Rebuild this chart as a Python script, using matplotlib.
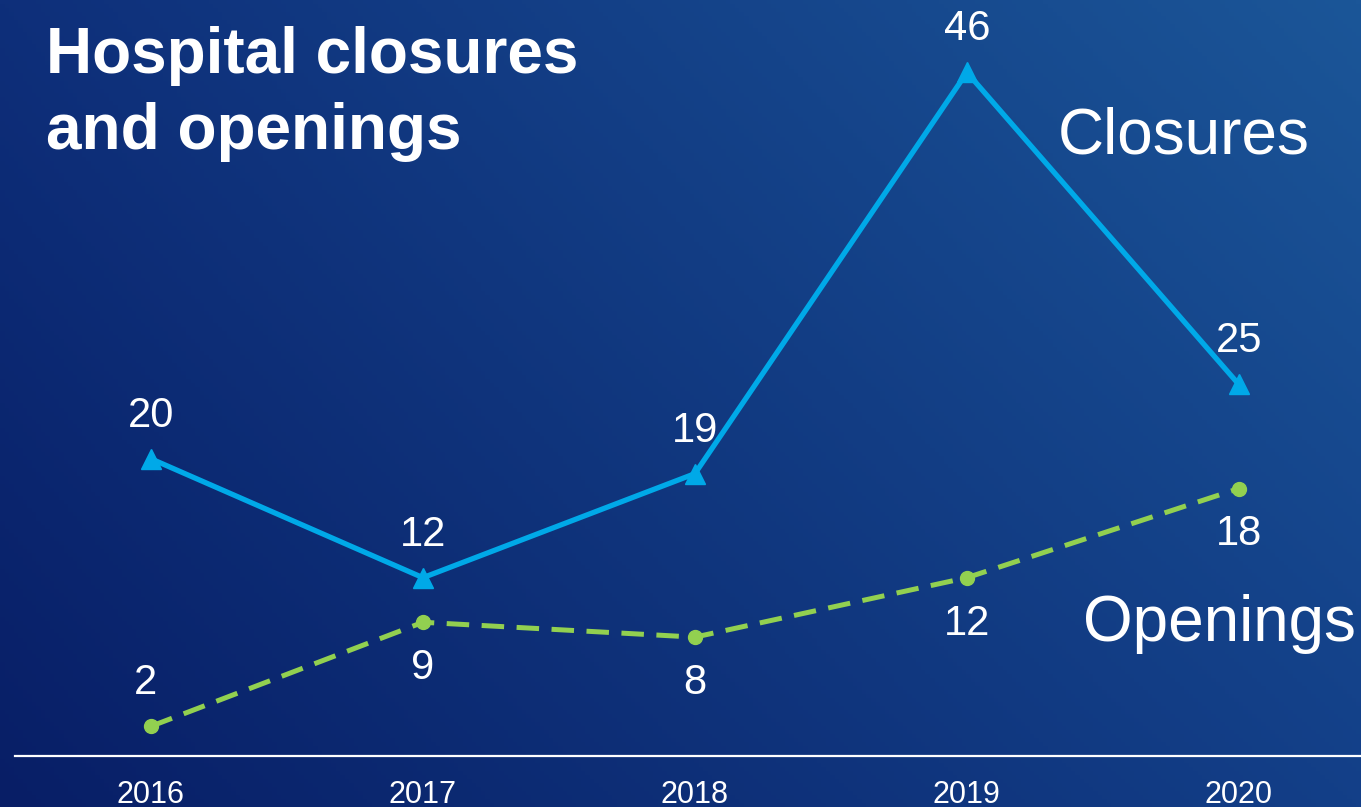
import numpy as np
import matplotlib.pyplot as plt
from matplotlib.colors import to_rgb

plt.rcParams['font.family'] = ['Liberation Sans', 'DejaVu Sans']

# datos
years = [2016, 2017, 2018, 2019, 2020]
closures = [20, 12, 19, 46, 25]
openings = [2, 9, 8, 12, 18]

azul = '#00A9E8'
verde = '#92D050'

fig = plt.figure(figsize=(13.61, 8.07), dpi=100)
ax = fig.add_axes([0, 0, 1, 1])
xmin, xmax = 2015.445, 2020.449
ymin, ymax = -3.43, 50.87
ax.set_xlim(xmin, xmax)
ax.set_ylim(ymin, ymax)

# fondo degradado (esquinas)
tl = np.array(to_rgb('#0E2F7A'))
tr = np.array(to_rgb('#1B5698'))
bl = np.array(to_rgb('#081E66'))
br = np.array(to_rgb('#133F88'))
u = np.linspace(0, 1, 300)[None, :, None]
v = np.linspace(0, 1, 200)[:, None, None]
img = (1 - v) * ((1 - u) * tl + u * tr) + v * ((1 - u) * bl + u * br)
ax.imshow(img, extent=[xmin, xmax, ymin, ymax], aspect='auto', zorder=0)

# linea base
ax.plot([2015.5, xmax], [0, 0], color='white', lw=1.6, zorder=1)

ax.plot(years, closures, color=azul, lw=3.8, marker='^', markersize=14, zorder=3)
ax.plot(years, openings, color=verde, lw=3.6, ls=(0, (4.5, 2.5)), marker='o', markersize=10, zorder=3)

for x, y in zip(years, closures):
    ax.annotate(str(y), (x, y), xytext=(0, 31), textcoords='offset points',
                ha='center', va='center', color='white', fontsize=30)
for i, (x, y) in enumerate(zip(years, openings)):
    off = 31 if i == 0 else -33
    ax.annotate(str(y), (x, y), xytext=(-4 if i == 0 else 0, off), textcoords='offset points',
                ha='center', va='center', color='white', fontsize=30)

# años (cortados abajo como en el original)
for x in years:
    ax.text(x, -47 / 14.86, str(x), ha='center', va='baseline', color='white', fontsize=22)

ax.text(1058 / 1361, 1 - 154 / 807, 'Closures', transform=ax.transAxes,
        color='white', fontsize=46, ha='left', va='baseline')
ax.text(1083 / 1361, 1 - 641 / 807, 'Openings', transform=ax.transAxes,
        color='white', fontsize=46, ha='left', va='baseline')

# titulo en dos lineas
ax.text(46 / 1361, 1 - 73 / 807, 'Hospital closures', transform=ax.transAxes,
        color='white', fontsize=46, fontweight='bold', ha='left', va='baseline')
ax.text(46 / 1361, 1 - 149 / 807, 'and openings', transform=ax.transAxes,
        color='white', fontsize=46, fontweight='bold', ha='left', va='baseline')

ax.axis('off')
fig.savefig('out.png', dpi=100)
